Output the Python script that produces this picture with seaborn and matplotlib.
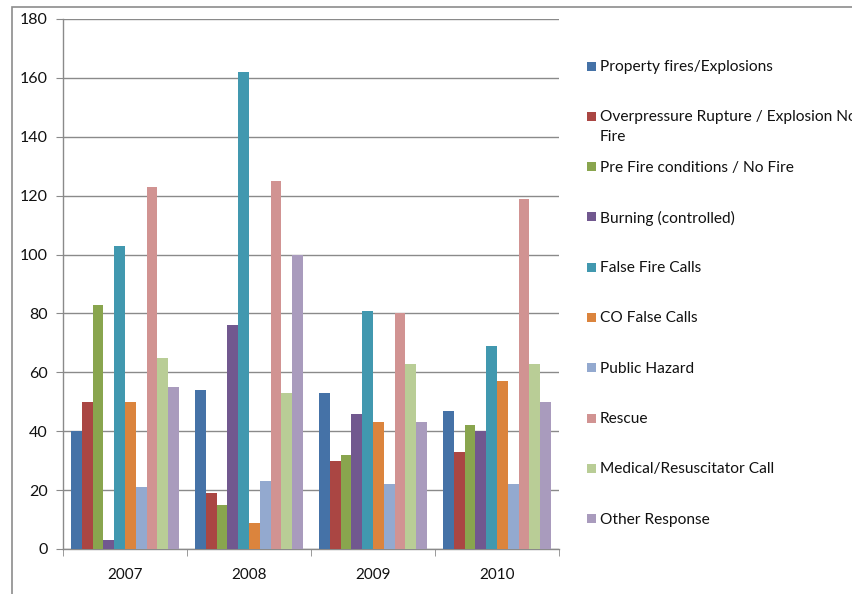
import pandas as pd
import matplotlib.pyplot as plt
import seaborn as sns
from matplotlib.patches import Rectangle
from matplotlib.ticker import FixedLocator

years = ["2007", "2008", "2009", "2010"]
call_types = [
    "Property fires/Explosions",
    "Overpressure Rupture / Explosion No\nFire",
    "Pre Fire conditions / No Fire",
    "Burning (controlled)",
    "False Fire Calls",
    "CO False Calls",
    "Public Hazard",
    "Rescue",
    "Medical/Resuscitator Call",
    "Other Response",
]
property_fires = [40, 54, 53, 47]
overpressure = [50, 19, 30, 33]
pre_fire = [83, 15, 32, 42]
burning = [3, 76, 46, 40]
false_fire = [103, 162, 81, 69]
co_false = [50, 9, 43, 57]
public_hazard = [21, 23, 22, 22]
rescue = [123, 125, 80, 119]
medical = [65, 53, 63, 63]
other = [55, 100, 43, 50]

colors = ["#4572A7", "#AA4643", "#89A54E", "#71588F", "#4198AF",
          "#DB843D", "#93A9CF", "#D19392", "#B9CD96", "#A99BBD"]

series = [property_fires, overpressure, pre_fire, burning, false_fire,
          co_false, public_hazard, rescue, medical, other]
rows = []
for name, vals in zip(call_types, series):
    for yr, v in zip(years, vals):
        rows.append({"year": yr, "type": name, "count": v})
df = pd.DataFrame(rows)

sns.set_style("white")
plt.rcParams["font.family"] = ["Lato", "DejaVu Sans"]

fig = plt.figure(figsize=(8.52, 5.94), dpi=100)
ax = fig.add_axes([63 / 852, 45 / 594, 496 / 852, 530 / 594])

sns.barplot(data=df, x="year", y="count", hue="type", hue_order=call_types,
            palette=colors, saturation=1, width=0.87, gap=0, legend=False,
            errorbar=None, ax=ax, zorder=3, linewidth=0, edgecolor="none")

grid_c = "#8a8a8a"
ax.set_ylim(0, 180)
ax.set_xlim(-0.5, 3.5)
ax.set_yticks(range(0, 181, 20))
ax.yaxis.grid(True, color=grid_c, lw=1, zorder=0)
ax.set_axisbelow(True)
ax.set_xlabel("")
ax.set_ylabel("")
for s in ["top", "right"]:
    ax.spines[s].set_visible(False)
for s in ["left", "bottom"]:
    ax.spines[s].set_color(grid_c)
    ax.spines[s].set_linewidth(1)
ax.tick_params(axis="y", length=5, color=grid_c, pad=6, labelsize=11.5,
               labelcolor="#111111", left=True)
ax.tick_params(axis="x", which="major", length=0, pad=14, labelsize=11,
               labelcolor="#111111")
ax.xaxis.set_minor_locator(FixedLocator([-0.5, 0.5, 1.5, 2.5, 3.5]))
ax.tick_params(axis="x", which="minor", length=5, color=grid_c, bottom=True)

# legend drawn as in the spreadsheet: evenly spaced rows on the right
for i, (name, c) in enumerate(zip(call_types, colors)):
    yc = 1 - (66 + i * 50.3) / 594
    fig.patches.append(Rectangle((587 / 852, yc - 4.5 / 594), 9 / 852, 9 / 594,
                                 transform=fig.transFigure, fc=c, ec="none"))
    fig.text(600 / 852, yc + 6 / 594, name, transform=fig.transFigure,
             ha="left", va="top", fontsize=11.2, color="#111111",
             linespacing=1.55)

# chart frame
fig.patches.append(Rectangle((12 / 852, -0.2), 1.2, 1.2 - 7.5 / 594,
                             transform=fig.transFigure, fill=False,
                             ec="#8c8c8c", lw=1.2))

fig.savefig("out.png", dpi=100)
plt.close(fig)
